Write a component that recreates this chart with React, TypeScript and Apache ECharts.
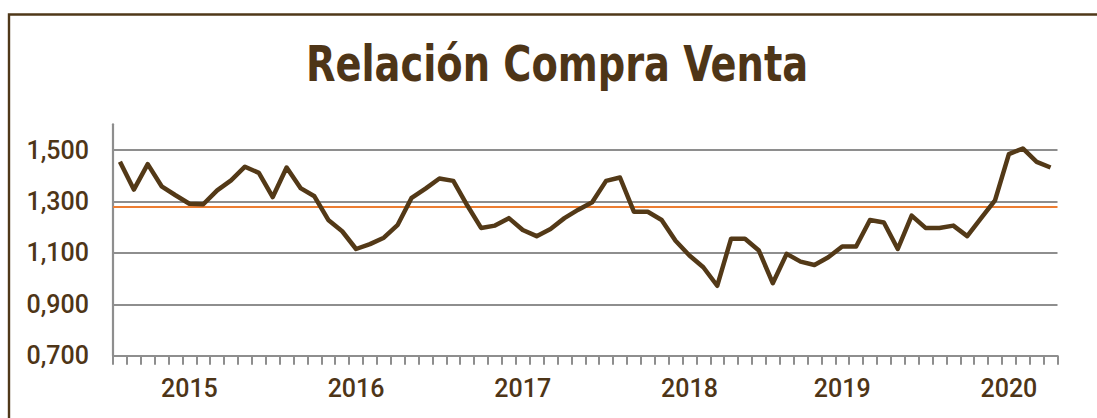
import React, { useEffect, useRef } from "react";
import * as echarts from "echarts";

// 68 monthly observations; year labels at selected positions
const xLabels: string[] = [
  "", "", "", "", "", "2015", "", "", "", "", "", "",
  "", "", "", "", "", "2016", "", "", "", "", "", "",
  "", "", "", "", "", "2017", "", "", "", "", "", "",
  "", "", "", "", "", "2018", "", "", "", "", "", "",
  "", "", "", "", "2019", "", "", "", "", "", "", "",
  "", "", "", "", "2020", "", "", "",
];

const relacion: number[] = [
  1.454, 1.346, 1.445, 1.359, 1.324, 1.291, 1.289, 1.343, 1.382, 1.435, 1.411, 1.317,
  1.432, 1.352, 1.320, 1.228, 1.184, 1.115, 1.134, 1.159, 1.209, 1.314, 1.350, 1.389,
  1.380, 1.285, 1.197, 1.206, 1.235, 1.189, 1.165, 1.193, 1.235, 1.268, 1.297, 1.380,
  1.393, 1.260, 1.260, 1.228, 1.147, 1.090, 1.044, 0.972, 1.155, 1.155, 1.109, 0.982,
  1.096, 1.066, 1.053, 1.083, 1.125, 1.125, 1.228, 1.218, 1.115, 1.245, 1.197, 1.197,
  1.206, 1.165, 1.235, 1.304, 1.484, 1.506, 1.454, 1.432,
];

const promedio = 1.277;

const yMin = 0.7;
const yMax = 1.6;
const yStep = 0.2;

const TITLE = "Relación Compra Venta";

export default function App() {
  const ref = useRef<HTMLDivElement>(null);

  useEffect(() => {
    if (!ref.current) return;
    const chart = echarts.init(ref.current, null, { renderer: "svg" });
    const brown = "#533917";
    const textBrown = "#4e3517";
    const gray = "#8e8e8e";
    chart.setOption({
      animation: false,
      backgroundColor: "#ffffff",
      graphic: [
        {
          type: "rect",
          shape: { x: 9, y: 14.5, width: 1300, height: 600 },
          style: { fill: "none", stroke: "#4f3819", lineWidth: 2.4 },
          silent: true,
        },
        {
          type: "text",
          x: 557,
          y: 64,
          scaleX: 0.87,
          style: {
            text: TITLE,
            font: "bold 49px 'DejaVu Sans Condensed', 'DejaVu Sans', Roboto, sans-serif",
            fill: textBrown,
            align: "center",
            verticalAlign: "middle",
          },
          silent: true,
        },
      ],
      grid: { left: 113, right: 39.5, top: 124.3, bottom: 62.3, containLabel: false },
      xAxis: {
        type: "category",
        data: xLabels,
        boundaryGap: true,
        axisLine: { show: true, lineStyle: { color: gray, width: 2.2 } },
        axisTick: { show: true, interval: 0, length: 9, lineStyle: { color: gray, width: 2 } },
        axisLabel: {
          interval: 0,
          margin: 20,
          color: textBrown,
          fontSize: 25,
          fontWeight: 500,
          fontFamily: "Roboto, 'Liberation Sans', sans-serif",
        },
        splitLine: { show: false },
      },
      yAxis: {
        type: "value",
        min: yMin,
        max: yMax,
        interval: yStep,
        axisLine: { show: true, lineStyle: { color: gray, width: 2.2 } },
        axisTick: { show: false },
        axisLabel: {
          margin: 24,
          color: textBrown,
          fontSize: 25,
          fontWeight: 500,
          fontFamily: "Roboto, 'Liberation Sans', sans-serif",
          showMaxLabel: false,
          formatter: (v: number) => v.toFixed(3).replace(".", ","),
        },
        splitLine: {
          show: true,
          lineStyle: { color: [gray, gray, gray, gray, gray, "rgba(0,0,0,0)"], width: 2.2 },
        },
      },
      series: [
        {
          name: "Relación Compra Venta",
          type: "line",
          data: relacion,
          showSymbol: false,
          symbol: "none",
          z: 3,
          lineStyle: { color: brown, width: 4.5, join: "round" },
          markLine: {
            z: 1,
            silent: true,
            symbol: "none",
            label: { show: false },
            lineStyle: { color: "#ED7D31", width: 2.2, type: "solid" },
            data: [{ yAxis: promedio }],
          },
        },
      ],
    });
    return () => chart.dispose();
  }, []);

  return (
    <div
      ref={ref}
      style={{ position: "fixed", left: 0, top: 0, width: 1097, height: 418 }}
    />
  );
}
